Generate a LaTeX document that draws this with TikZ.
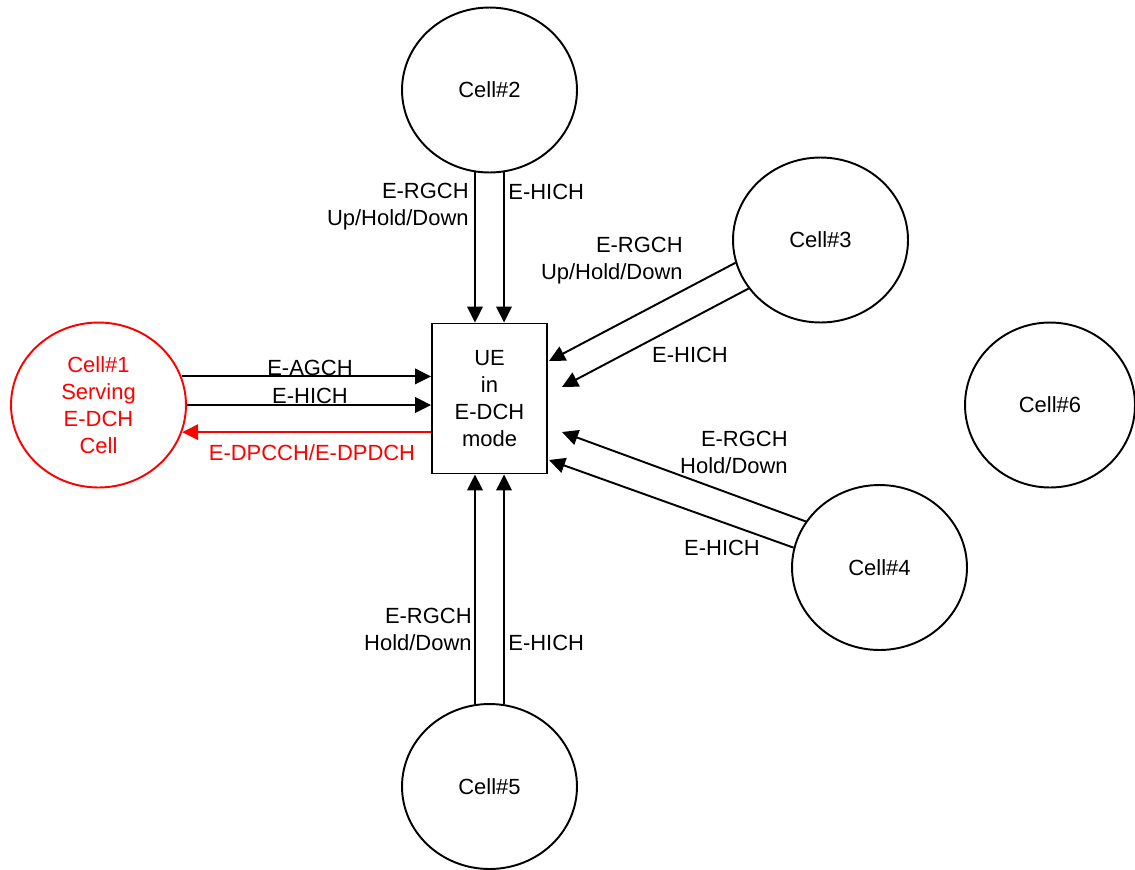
\documentclass[tikz,border=0pt]{standalone}
\usepackage{fontspec}
\setmainfont{Liberation Sans}
\usetikzlibrary{arrows.meta,positioning,shapes.geometric}
\newcommand{\chfont}{\fontsize{12.5}{15.4}\selectfont}

\begin{document}
\begin{tikzpicture}[
    x=0.02cm, y=-0.02cm,
    cell/.style={ellipse, draw=black, line width=1.1pt, minimum width=3.5cm, minimum height=3.3cm, inner sep=0pt, align=center, font=\chfont},
    ue/.style={rectangle, draw=black, line width=1.1pt, minimum width=2.3cm, minimum height=3.0cm, align=center, font=\chfont},
    lbl/.style={inner sep=0pt, align=right, font=\chfont},
    arrow/.style={-{Triangle[length=3.2mm, width=3.1mm]}, line width=1.1pt}
]
\useasboundingbox (0,0) rectangle (1135,869);

\node[ue] (ue) at (489.5,398.5) {UE\\ in\\ E-DCH\\ mode};
\node[cell, draw=red, text=red] (cell1) at (98.5,405) {Cell\#1\\ Serving\\ E-DCH\\ Cell};
\node[cell] (cell2) at (489.5,90) {Cell\#2};
\node[cell] (cell3) at (820.5,240) {Cell\#3};
\node[cell] (cell4) at (879.5,567.5) {Cell\#4};
\node[cell] (cell5) at (489.5,786.5) {Cell\#5};
\node[cell, minimum width=3.4cm] (cell6) at (1050,405) {Cell\#6};

\coordinate (t3a) at (549,361);
\coordinate (t3b) at (562,387);
\coordinate (t4a) at (562,432);
\coordinate (t4b) at (549,460);

% serving cell
\draw[arrow] (cell1.19) -- (cell1.19 -| ue.west);
\draw[arrow] (cell1.east) -- (cell1.east -| ue.west);
\draw[arrow, red] (cell1.-18 -| ue.west) -- (cell1.-18);
% non-serving cells
\draw[arrow] (cell2.-100) -- (cell2.-100 |- ue.north);
\draw[arrow] (cell2.-80) -- (cell2.-80 |- ue.north);
\draw[arrow] (cell3.195) -- (t3a);
\draw[arrow] (cell3.214) -- (t3b);
\draw[arrow] (cell4.148) -- (t4a);
\draw[arrow] (cell4.167) -- (t4b);
\draw[arrow] (cell5.100) -- (cell5.100 |- ue.south);
\draw[arrow] (cell5.80) -- (cell5.80 |- ue.south);

\node[lbl] (l1a) at (310,368) {E-AGCH};
\node[lbl] (l1b) at (310,396) {E-HICH};
\node[lbl, text=red] (l1c) at (312,453) {E-DPCCH/E-DPDCH};
\node[lbl, anchor=east] (l2a) at (469,207) {E-RGCH\\ Up/Hold/Down};
\node[lbl, anchor=west] (l2b) at (508,192) {E-HICH};
\node[lbl, anchor=east] (l3a) at (683,261) {E-RGCH\\ Up/Hold/Down};
\node[lbl] (l3b) at (690,355) {E-HICH};
\node[lbl, anchor=east] (l4a) at (788,452) {E-RGCH\\ Hold/Down};
\node[lbl] (l4b) at (722,548) {E-HICH};
\node[lbl, anchor=east] (l5a) at (472,629) {E-RGCH\\ Hold/Down};
\node[lbl, anchor=west] (l5b) at (508,643) {E-HICH};
\end{tikzpicture}
\end{document}
